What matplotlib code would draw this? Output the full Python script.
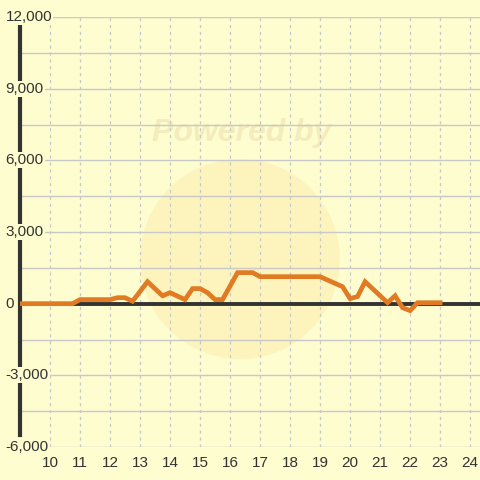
import matplotlib
matplotlib.use("Agg")
import matplotlib.pyplot as plt
from matplotlib.patches import Ellipse

# hours of day and values
hours = [9.0, 10.75, 11.0, 12.0, 12.25, 12.5, 12.75, 13.25, 13.75, 14.0, 14.5,
         14.75, 15.0, 15.25, 15.5, 15.75, 16.25, 16.75, 17.0, 19.0, 19.75,
         20.0, 20.25, 20.5, 21.25, 21.5, 21.75, 22.0, 22.25, 23.0]
values = [0, 0, 170, 170, 250, 250, 100, 920, 330, 460, 170,
          630, 630, 460, 170, 170, 1300, 1300, 1130, 1130, 710,
          210, 300, 920, 40, 330, -170, -290, 40, 40]

x_ticks = list(range(10, 25))
y_ticks = [-6000, -3000, 0, 3000, 6000, 9000, 12000]
y_minor = [-4500, -1500, 1500, 4500, 7500, 10500]

bg = "#fdfdd0"
txt = "#333333"

plt.rcParams["font.family"] = ["Liberation Sans", "DejaVu Sans"]

fig = plt.figure(figsize=(4.8, 4.8), dpi=100, facecolor=bg)
ax = fig.add_axes([20 / 480, 1 - 447 / 480, 460 / 480, 430 / 480])
ax.set_facecolor(bg)

# faint watermark
ax.add_patch(Ellipse((0.478, 0.437), 200 / 460, 200 / 430, transform=ax.transAxes,
                     facecolor="#fcf2b6", edgecolor="none", alpha=0.75, zorder=0.1))
ax.text(0.483, 0.73, "Powered by", transform=ax.transAxes, ha="center", va="center",
        fontsize=23, fontweight="bold", fontstyle="italic", color="#f4ecbc", zorder=0.2)

ax.set_xlim(9, 24.33)
ax.set_ylim(-6000, 12000)

for t in y_ticks + y_minor:
    ax.axhline(t, color="#c8c8c8", lw=1, zorder=0.5)
for t in x_ticks:
    ax.axvline(t, color="#c8c8c8", lw=0.9, ls=(0, (2.5, 3)), zorder=0.5)

ax.axhline(0, color=txt, lw=2.8, zorder=1)

ax.plot(hours, values, color="#e07b24", lw=3.4, solid_joinstyle="miter", zorder=3)

for s in ["top", "right", "bottom"]:
    ax.spines[s].set_visible(False)
ax.spines["left"].set_color(txt)
ax.spines["left"].set_linewidth(3)
ax.spines["left"].set_bounds(-5500, 11650)

ax.set_xticks([])
ax.set_yticks([])

for t in x_ticks:
    ax.text(t, -0.037, str(t), transform=ax.get_xaxis_transform(), ha="center",
            va="center", fontsize=11, color=txt, clip_on=False)
for t in y_ticks:
    ax.text(-0.031, t, f"{t:,}", transform=ax.get_yaxis_transform(), ha="left",
            va="center", fontsize=11, color=txt, clip_on=False, zorder=5,
            bbox=dict(facecolor=bg, edgecolor="none", pad=0.8))

fig.savefig("out.png", dpi=100, facecolor=bg)
